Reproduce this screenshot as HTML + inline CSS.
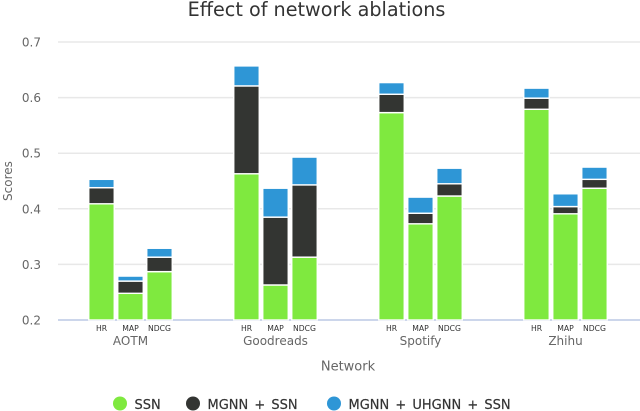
<!DOCTYPE html>
<html>
<head>
<meta charset="utf-8">
<title>Effect of network ablations</title>
<style>
html,body{margin:0;padding:0;background:#fff;}
svg{display:block;font-family:"DejaVu Sans","Liberation Sans",sans-serif;}
</style>
</head>
<body>
<svg id="chart" width="640" height="411" viewBox="0 0 640 411" xmlns="http://www.w3.org/2000/svg"></svg>
<script>
const groups = ['AOTM', 'Goodreads', 'Spotify', 'Zhihu'];
const metrics = ['HR', 'MAP', 'NDCG'];
const yTicks = [0.2, 0.3, 0.4, 0.5, 0.6, 0.7];
const seriesNames = ['SSN', 'MGNN + SSN', 'MGNN + UHGNN + SSN'];
const ssnValues = [0.409, 0.248, 0.287, 0.463, 0.263, 0.313, 0.573, 0.373, 0.423, 0.579, 0.391, 0.437];
const mgnnValues = [0.438, 0.270, 0.313, 0.621, 0.385, 0.443, 0.606, 0.392, 0.445, 0.599, 0.404, 0.453];
const uhgnnValues = [0.453, 0.279, 0.329, 0.657, 0.437, 0.493, 0.627, 0.421, 0.473, 0.617, 0.427, 0.475];
const seriesColors = ['#7fe93f', '#333532', '#2e96d6'];

const svg = document.getElementById('chart');
const NS = 'http://www.w3.org/2000/svg';
const plotLeft = 58, plotRight = 640, plotTop = 42, plotBottom = 320;
const groupBand = 145;
const yMin = 0.2, yMax = 0.7;

function yScale(v) {
  return plotBottom - (v - yMin) / (yMax - yMin) * (plotBottom - plotTop);
}
function groupCenter(g) {
  return plotLeft + groupBand * (g + 0.5);
}
function barCenter(g, m) {
  return groupCenter(g) + (m - (metrics.length - 1) / 2) * 29;
}
function make(tag, attrs, text) {
  const el = document.createElementNS(NS, tag);
  for (const k in attrs) el.setAttribute(k, attrs[k]);
  if (text !== undefined) el.textContent = text;
  svg.appendChild(el);
  return el;
}

// title
const title = make('text', {x: 316.5, y: 16, 'text-anchor': 'middle', 'font-size': 19.2, fill: '#333333'}, 'Effect of network ablations');



// gridlines and y tick labels
yTicks.forEach(function (t) {
  if (t !== yMin) {
    const grid = make('line', {x1: plotLeft, x2: plotRight, y1: yScale(t), y2: yScale(t), stroke: '#e8e8e8', 'stroke-width': 1.5});
    
    
  }
  const label = make('text', {x: 41, y: yScale(t) + 4.5, 'text-anchor': 'end', 'font-size': 12, fill: '#666666'}, t.toFixed(1));
  
  
});

// x axis line
const axis = make('line', {x1: plotLeft, x2: plotRight, y1: plotBottom, y2: plotBottom, stroke: '#ccd6eb', 'stroke-width': 2});



// axis titles
const yTitle = make('text', {transform: 'translate(12,181) rotate(-90)', 'text-anchor': 'middle', 'font-size': 12, fill: '#666666'}, 'Scores');


const xTitle = make('text', {x: 348, y: 370.5, 'text-anchor': 'middle', 'font-size': 13, fill: '#666666'}, 'Network');



// bars and x labels
const cumulative = [ssnValues, mgnnValues, uhgnnValues];
groups.forEach(function (name, g) {
  metrics.forEach(function (metric, m) {
    const i = g * metrics.length + m;
    const cx = barCenter(g, m);
    let base = yMin;
    cumulative.forEach(function (vals, s) {
      const top = vals[i];
      const bar = make('rect', {
        x: cx - 12.75, width: 25.5,
        y: yScale(top), height: Math.max(0, yScale(base) - yScale(top)),
        fill: seriesColors[s], stroke: '#ffffff', 'stroke-width': 1.4
      });
      
      
      base = top;
    });
    const mLabel = make('text', {x: cx, y: 331, 'text-anchor': 'middle', 'font-size': 7.7, fill: '#333333'}, metric);
    
    
  });
  const gLabel = make('text', {x: groupCenter(g), y: 345, 'text-anchor': 'middle', 'font-size': 12, fill: '#666666'}, name);
  
  
});

// legend
const legendDotX = [120, 193, 334];
seriesNames.forEach(function (name, s) {
  const dot = make('circle', {cx: legendDotX[s], cy: 403.5, r: 7, fill: seriesColors[s]});
  
  
  const text = make('text', {x: legendDotX[s] + 14.5, y: 409, 'font-size': 13, 'word-spacing': 2, fill: '#333333', stroke: '#333333', 'stroke-width': 0.2}, name);
  
  
});
</script>
</body>
</html>
